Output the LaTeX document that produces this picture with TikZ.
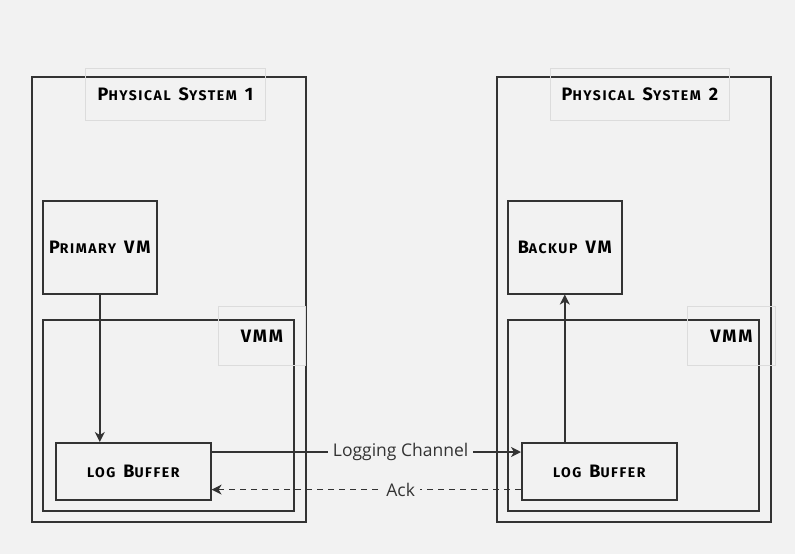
\documentclass[tikz,border=0pt]{standalone}
\usepackage{fontspec}
\setmainfont{Open Sans}
\newfontfamily\handfont[LetterSpace=11]{Fira Sans}
\usetikzlibrary{arrows.meta}
\definecolor{bg}{HTML}{F2F2F2}
\definecolor{ln}{HTML}{333333}
\definecolor{lite}{HTML}{DCDCDC}
\newcommand\Cp[1]{{\fontsize{18}{19}\selectfont #1}}
\newcommand\Sm[1]{{\fontsize{14}{15}\selectfont #1}}
\newcommand\Ws{\hspace{8pt}}
\tikzset{
  box/.style={draw=ln, line width=1.6pt, inner sep=0pt, anchor=north west, font=\handfont\bfseries, text=black},
  litebox/.style={draw=lite, line width=0.9pt, inner sep=0pt, anchor=north west, font=\handfont\bfseries, text=black},
  arr/.style={draw=ln, line width=1.4pt, -{Stealth[length=10pt,width=10pt,inset=3pt]}},
  lbl/.style={fill=bg, inner xsep=5pt, inner ysep=1pt, text=ln, font=\fontsize{17.5}{19}\selectfont}
}
\begin{document}
\begin{tikzpicture}[x=1pt,y=-1pt]
\fill[bg] (0,0) rectangle (795,554);
\useasboundingbox (0,0) rectangle (795,554);
% physical systems
\node[box, minimum width=274pt, minimum height=445pt] (ps1) at (31,76) {};
\node[litebox, minimum width=180pt, minimum height=52pt] (t1) at (85,68) {\Cp{P}\Sm{HYSICAL}\Ws\Cp{S}\Sm{YSTEM}\Ws\Cp{1}};
\node[box, minimum width=274pt, minimum height=445pt] (ps2) at (496,76) {};
\node[litebox, minimum width=179pt, minimum height=52pt] (t2) at (550,68) {\Cp{P}\Sm{HYSICAL}\Ws\Cp{S}\Sm{YSTEM}\Ws\Cp{2}};
% VMs
\node[box, minimum width=114pt, minimum height=93pt] (pvm) at (42,200) {\Cp{P}\Sm{RIMARY}\Ws\Cp{VM}};
\node[box, minimum width=114pt, minimum height=93pt] (bvm) at (507,200) {\Cp{B}\Sm{ACKUP}\Ws\Cp{VM}};
% VMM
\node[box, minimum width=251pt, minimum height=191pt] (vmm1) at (42,319) {};
\node[litebox, minimum width=87pt, minimum height=59pt] (v1) at (218,306) {\Cp{VMM}};
\node[box, minimum width=251pt, minimum height=191pt] (vmm2) at (507,319) {};
\node[litebox, minimum width=88pt, minimum height=59pt] (v2) at (687,306) {\Cp{VMM}};
% log buffers
\node[box, minimum width=155pt, minimum height=57pt] (lb1) at (55,442) {\Sm{LOG}\Ws\Cp{B}\Sm{UFFER}};
\node[box, minimum width=155pt, minimum height=57pt] (lb2) at (521,442) {\Sm{LOG}\Ws\Cp{B}\Sm{UFFER}};
% connectors
\draw[arr] (pvm.south) -- (pvm.south |- lb1.north);
\draw[arr] (lb2.north -| bvm.south) -- (bvm.south);
\draw[arr] ([yshift=-10pt]lb1.north east) -- node[lbl, pos=0.611] {Logging Channel} ([yshift=-10pt]lb2.north west);
\draw[arr, dashed, dash pattern=on 6pt off 5pt] ([yshift=11pt]lb2.south west) -- node[lbl, pos=0.389] {Ack} ([yshift=11pt]lb1.south east);
\end{tikzpicture}
\end{document}
